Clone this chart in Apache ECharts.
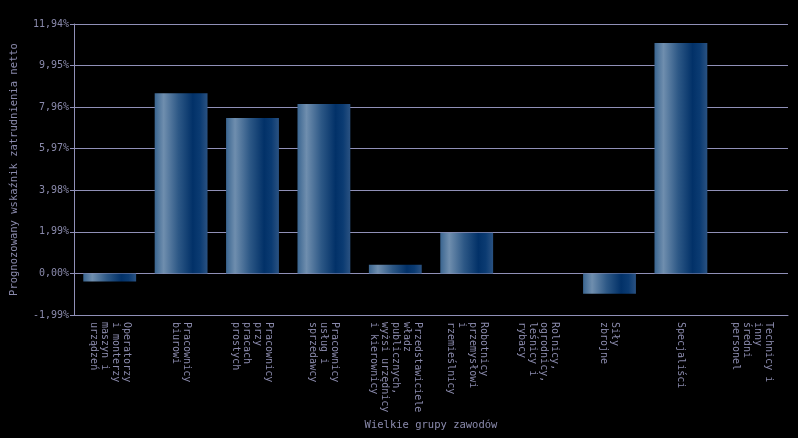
<!DOCTYPE html>
<html>
<head>
<meta charset="utf-8">
<script src="https://cdn.jsdelivr.net/npm/echarts@6/dist/echarts.min.js"></script>
<style>
html,body{margin:0;padding:0;background:#000;}
#chart{width:798px;height:438px;}
</style>
</head>
<body>
<div id="chart"></div>
<script>
const categories = [
  'Operatorzy\ni monterzy\nmaszyn i\nurządzeń',
  'Pracownicy\nbiurowi',
  'Pracownicy\nprzy\npracach\nprostych',
  'Pracownicy\nusług i\nsprzedawcy',
  'Przedstawiciele\nwładz\npublicznych,\nwyżsi urzędnicy\ni kierownicy',
  'Robotnicy\nprzemysłowi\ni\nrzemieślnicy',
  'Rolnicy,\nogrodnicy,\nleśnicy i\nrybacy',
  'Siły\nzbrojne',
  'Specjaliści',
  'Technicy i\ninny\nśredni\npersonel'
];
const values = [-0.39, 8.63, 7.44, 8.11, 0.41, 1.95, 0, -0.97, 11.03, 0];
const yMin = -1.99, yMax = 11.94, yStep = 1.99;

const txt = '#8a8aac';
const lineCol = '#9090b8';
const mono = 'DejaVu Sans Mono';

const chart = echarts.init(document.getElementById('chart'));
chart.setOption({
  backgroundColor: '#000000',
  animation: false,
  grid: {left: 74, right: 10, top: 24, bottom: 123, containLabel: false},
  xAxis: {
    type: 'category',
    data: categories,
    name: 'Wielkie grupy zawodów',
    nameLocation: 'middle',
    nameGap: 100,
    nameTextStyle: {color: txt, fontFamily: mono, fontSize: 10.5},
    axisLine: {onZero: false, lineStyle: {color: lineCol, width: 1}},
    axisTick: {show: false},
    axisLabel: {
      interval: 0, rotate: -90, margin: 7, color: txt,
      fontFamily: mono, fontSize: 10, lineHeight: 11
    }
  },
  yAxis: {
    type: 'value',
    min: yMin, max: yMax, interval: yStep,
    name: 'Prognozowany wskaźnik zatrudnienia netto',
    nameLocation: 'middle',
    nameRotate: 90,
    nameGap: 54,
    nameTextStyle: {color: txt, fontFamily: mono, fontSize: 10.5},
    axisLine: {show: true, lineStyle: {color: lineCol, width: 1}},
    axisTick: {show: true, length: 4, lineStyle: {color: lineCol}},
    splitLine: {show: true, lineStyle: {color: lineCol, width: 1}},
    axisLabel: {
      color: txt, fontFamily: mono, fontSize: 10, margin: 5,
      formatter: v => v.toFixed(2).replace('.', ',') + '%'
    }
  },
  series: [{
    type: 'bar',
    data: values,
    barCategoryGap: '26%',
    itemStyle: {
      color: new echarts.graphic.LinearGradient(0, 0, 1, 0, [
        {offset: 0, color: '#3a6590'},
        {offset: 0.17, color: '#6f8eae'},
        {offset: 0.45, color: '#2d5886'},
        {offset: 0.72, color: '#023168'},
        {offset: 0.86, color: '#0b3b72'},
        {offset: 1, color: '#2a5282'}
      ])
    }
  }]
});
</script>
</body>
</html>
